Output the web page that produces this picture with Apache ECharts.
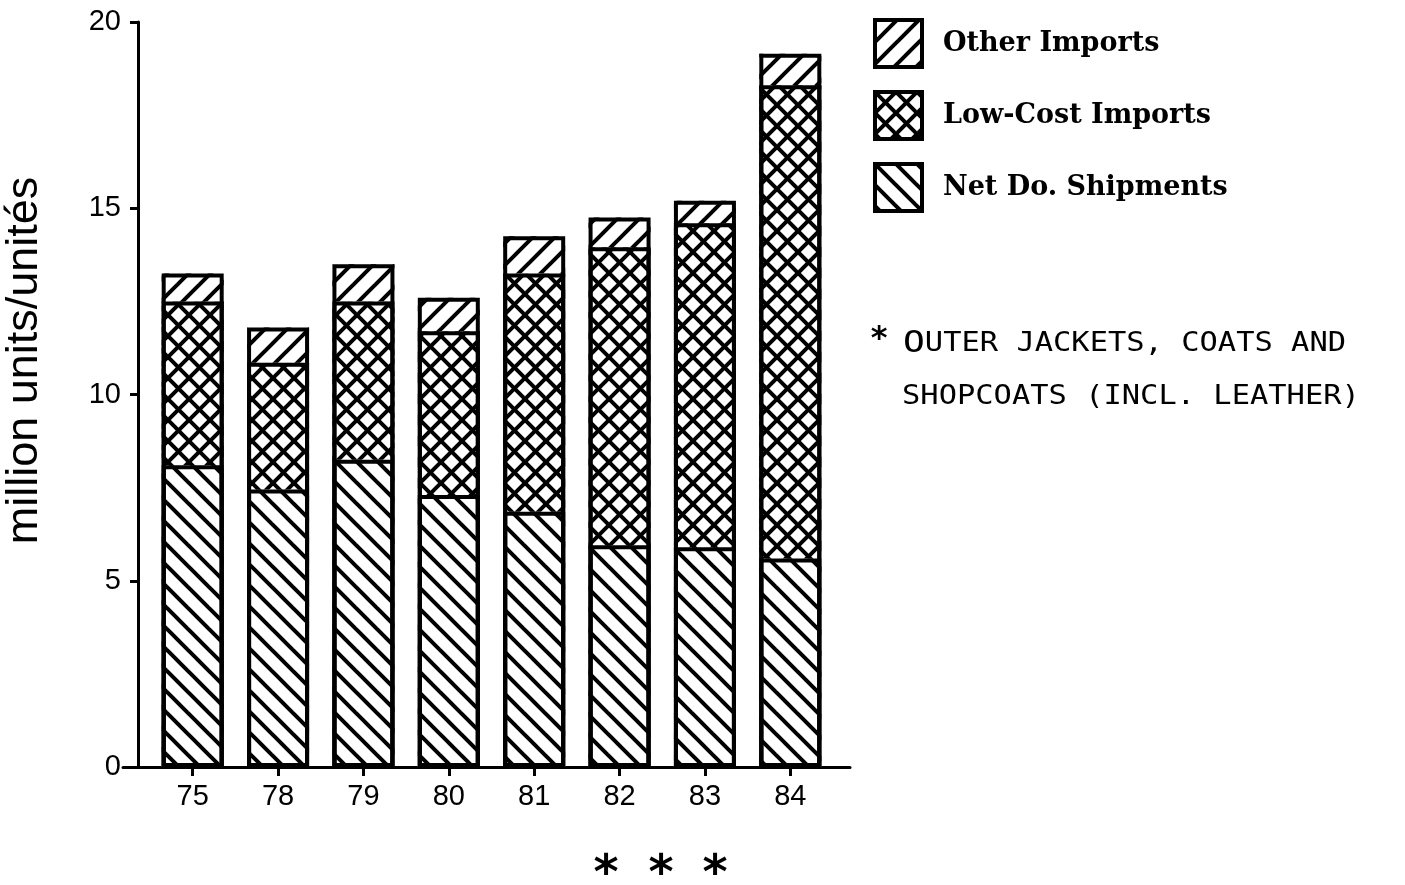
<!DOCTYPE html>
<html>
<head>
<meta charset="utf-8">
<script src="https://cdn.jsdelivr.net/npm/echarts@6/dist/echarts.min.js"></script>
<style>
  html, body { margin: 0; padding: 0; background: #fff; }
  #chart { width: 1405px; height: 885px; }
</style>
</head>
<body>
<div id="chart"></div>
<script>
// Apparent consumption of outer jackets, coats and shopcoats, million units
const years = ['75', '78', '79', '80', '81', '82', '83', '84'];
const netDomesticShipments = [8.1, 7.45, 8.25, 7.3, 6.85, 5.95, 5.9, 5.6];
const lowCostImports = [4.4, 3.4, 4.25, 4.4, 6.4, 8.0, 8.7, 12.7];
const otherImports = [0.75, 0.95, 1.0, 0.9, 1.0, 0.8, 0.6, 0.85];
const legendOrder = ['Other Imports', 'Low-Cost Imports', 'Net Do. Shipments'];

// Running tops of the stack; each one gets a heavy black outline
function runningTotal(layers) {
  return years.map(function (_, i) {
    let s = 0;
    layers.forEach(function (arr) { s += arr[i]; });
    return +s.toFixed(2);
  });
}
const outlineLevels = [
  runningTotal([netDomesticShipments]),
  runningTotal([netDomesticShipments, lowCostImports]),
  runningTotal([netDomesticShipments, lowCostImports, otherImports])
];

// Black-on-white hatch tile; '\\' and '/' give the two diagonal directions
function hatch(dirs, size, width) {
  const c = document.createElement('canvas');
  c.width = c.height = size;
  const g = c.getContext('2d');
  g.fillStyle = '#fff';
  g.fillRect(0, 0, size, size);
  g.strokeStyle = '#000';
  g.lineWidth = width;
  dirs.forEach(function (d) {
    [-size, 0, size, 2 * size].forEach(function (k) {
      g.beginPath();
      if (d === '\\') {
        g.moveTo(k - size, -size);
        g.lineTo(k + 2 * size, 2 * size);
      } else {
        g.moveTo(k + size, -size);
        g.lineTo(k - 2 * size, 2 * size);
      }
      g.stroke();
    });
  });
  return { image: c, repeat: 'repeat' };
}

const fillNet = hatch(['\\'], 21, 4);
const fillLow = hatch(['\\', '/'], 21, 4);
const fillOther = hatch(['/'], 22, 4);

const BAR_W = 62;

function barSeries(name, data, fill) {
  return {
    name: name,
    type: 'bar',
    stack: 'total',
    data: data,
    barWidth: BAR_W,
    barGap: '-100%',
    itemStyle: { color: fill, borderWidth: 0 },
    emphasis: { disabled: true }
  };
}

function outlineSeries(name, data) {
  return {
    name: name,
    type: 'bar',
    data: data,
    barWidth: BAR_W,
    barGap: '-100%',
    z: 3,
    silent: true,
    itemStyle: { color: 'rgba(0,0,0,0)', borderColor: '#000', borderWidth: 4 },
    emphasis: { disabled: true }
  };
}

const chart = echarts.init(document.getElementById('chart'), null, { renderer: 'canvas' });
const sansFont = '"Liberation Sans", Arial, sans-serif';
const monoFont = '"DejaVu Sans Mono", monospace';

chart.setOption({
  animation: false,
  backgroundColor: '#fff',
  grid: [
    { left: 150, width: 683, top: 22, bottom: 118 },
    { left: 123, width: 727, top: 22, bottom: 118 }
  ],
  xAxis: [
    {
      type: 'category',
      gridIndex: 0,
      data: years,
      axisLine: { show: false },
      axisTick: { show: true, alignWithLabel: true, length: 9, lineStyle: { color: '#000', width: 3 } },
      axisLabel: { color: '#000', fontFamily: sansFont, fontSize: 29, margin: 15 },
      splitLine: { show: false }
    },
    {
      type: 'value',
      gridIndex: 1,
      min: 0,
      max: 1,
      axisLine: { show: true, onZero: false, lineStyle: { color: '#000', width: 3 } },
      axisTick: { show: false },
      axisLabel: { show: false },
      splitLine: { show: false }
    }
  ],
  yAxis: [
    {
      type: 'value',
      gridIndex: 0,
      min: 0,
      max: 20,
      interval: 5,
      offset: 12,
      name: 'million units/unités',
      nameLocation: 'middle',
      nameRotate: 90,
      nameGap: 91,
      nameTextStyle: { color: '#000', fontFamily: sansFont, fontSize: 45, padding: [0, 0, 0, 68] },
      axisLine: { show: true, lineStyle: { color: '#000', width: 3 } },
      axisTick: { show: true, length: 8, lineStyle: { color: '#000', width: 3 } },
      axisLabel: { color: '#000', fontFamily: sansFont, fontSize: 29, margin: 17 },
      splitLine: { show: false }
    },
    { type: 'value', gridIndex: 1, show: false }
  ],
  legend: {
    data: legendOrder,
    orient: 'vertical',
    left: 868,
    top: 13,
    itemWidth: 47,
    itemHeight: 47,
    itemGap: 21,
    icon: 'rect',
    selectedMode: false,
    itemStyle: { borderColor: '#000', borderWidth: 4 },
    textStyle: {
      color: '#000',
      fontFamily: '"DejaVu Serif", serif',
      fontWeight: 'bold',
      fontSize: 27,
      padding: [5, 0, 0, 16]
    }
  },
  series: [
    barSeries('Net Do. Shipments', netDomesticShipments, fillNet),
    barSeries('Low-Cost Imports', lowCostImports, fillLow),
    barSeries('Other Imports', otherImports, fillOther),
    outlineSeries('Net Do. Shipments top', outlineLevels[0]),
    outlineSeries('Low-Cost Imports top', outlineLevels[1]),
    outlineSeries('Column top', outlineLevels[2])
  ],
  graphic: [
    {
      type: 'text', x: 879, y: 340, silent: true,
      style: { text: '*', fill: '#000', font: 'bold 32px "DejaVu Sans"', align: 'center', verticalAlign: 'middle' }
    },
    {
      type: 'text', x: 903, y: 344, scaleX: 1.17, silent: true,
      style: {
        text: '{big|O}{small|UTER JACKETS, COATS AND}',
        verticalAlign: 'middle',
        rich: {
          big: { fontFamily: monoFont, fontSize: 31, fill: '#000', color: '#000' },
          small: { fontFamily: monoFont, fontSize: 26, fill: '#000', color: '#000' }
        }
      }
    },
    {
      type: 'text', x: 902, y: 397, scaleX: 1.17, silent: true,
      style: { text: 'SHOPCOATS (INCL. LEATHER)', fill: '#000', font: '26px ' + monoFont, verticalAlign: 'middle' }
    },
    {
      type: 'text', x: 606, y: 876, silent: true,
      style: { text: '*', fill: '#000', font: 'bold 48px "DejaVu Sans"', align: 'center', verticalAlign: 'middle' }
    },
    {
      type: 'text', x: 661, y: 876, silent: true,
      style: { text: '*', fill: '#000', font: 'bold 48px "DejaVu Sans"', align: 'center', verticalAlign: 'middle' }
    },
    {
      type: 'text', x: 715, y: 876, silent: true,
      style: { text: '*', fill: '#000', font: 'bold 48px "DejaVu Sans"', align: 'center', verticalAlign: 'middle' }
    }
  ]
});
</script>
</body>
</html>
